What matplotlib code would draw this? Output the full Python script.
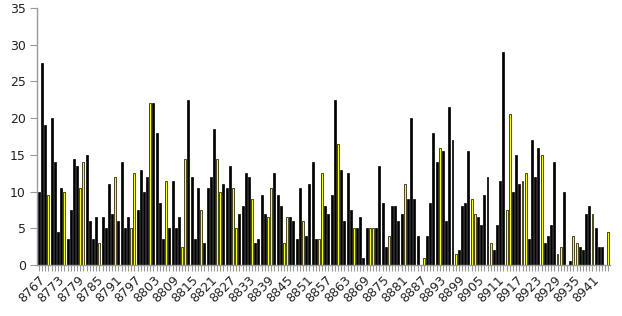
import matplotlib
matplotlib.use("Agg")
import matplotlib.pyplot as plt
import numpy as np

# categories are consecutive ids starting here
FIRST_ID = 8767

values = [
    10, 27.5, 19, 9.5, 20, 14, 4.5, 10.5, 10, 3.5,
    7.5, 14.5, 13.5, 10.5, 14, 15, 6, 3.5, 6.5, 3,
    6.5, 5, 11, 7, 12, 6, 14, 5, 6.5, 5,
    12.5, 7.5, 13, 10, 12, 22, 22, 18, 8.5, 3.5,
    11.5, 5, 11.5, 5, 6.5,
    2.5, 14.5, 22.5, 12, 3.5, 10.5, 7.5, 3, 10.5, 12,
    18.5, 14.5, 10, 11, 10.5, 13.5, 10.5, 5, 7, 8,
    12.5, 12, 9, 3, 3.5, 9.5, 7, 6.5, 10.5, 12.5,
    9.5, 8, 3, 6.5, 6.5, 6, 3.5, 10.5, 6, 4,
    11, 14, 3.5, 3.5,
    12.5, 8, 7, 9.5, 22.5, 16.5, 13, 6, 12.5, 7.5,
    5, 5, 6.5, 1, 5, 5, 5, 5, 13.5, 8.5,
    2.5, 4, 8, 8, 6, 7, 11, 9, 20, 9,
    4, 0, 1, 4, 8.5, 18, 14, 16, 15.5, 6,
    21.5, 17, 1.5, 2,
    8, 8.5, 15.5, 9, 7, 6.5, 5.5, 9.5, 12, 3,
    2, 5.5, 11.5, 29, 7.5, 20.5, 10, 15, 11, 11.5,
    12.5, 3.5, 17, 12, 16, 15, 3, 4, 5.5, 14,
    1.5, 2.5, 10, 0, 0.5, 4, 3, 2.5, 2, 7,
    8, 7, 5, 2.5, 2.5, 0, 4.5,
]

# ids drawn in yellow
highlight_ids = [
    8770, 8775, 8780, 8781, 8786, 8791, 8796, 8797, 8802, 8807,
    8812, 8813, 8818, 8823, 8824, 8828, 8829, 8834, 8839, 8840,
    8844, 8845, 8850, 8855, 8856, 8861, 8866, 8871, 8872, 8877,
    8882, 8888, 8893, 8898, 8903, 8904, 8909, 8914, 8915, 8919,
    8920, 8925, 8930, 8931, 8935, 8936, 8941, 8946,
]

ids = [FIRST_ID + i for i in range(len(values))]
colors = ["#ffff00" if i in highlight_ids else "black" for i in ids]

fig = plt.figure(figsize=(6.22, 3.16), dpi=100)
ax = fig.add_axes([0.0595, 0.1614, 0.9212, 0.8133])

x = np.arange(len(values))
ax.bar(x, values, width=0.62, color=colors, edgecolor="black", linewidth=0.5)

ax.set_xlim(-0.6, len(values) - 0.5)
ax.set_ylim(0, 35)
ax.set_yticks(np.arange(0, 36, 5))

ax.set_xticks(x)
ax.set_xticklabels([str(i) if k % 6 == 0 else "" for k, i in enumerate(ids)],
                   rotation=45, ha="right", rotation_mode="anchor", fontsize=9,
                   color="#222222")
ax.tick_params(axis="x", length=4, width=0.8, color="#999999", pad=2)
ax.tick_params(axis="y", length=5, width=0.8, color="#999999", labelsize=9,
               labelcolor="#222222", pad=3)

for side in ("top", "right"):
    ax.spines[side].set_visible(False)
for side in ("left", "bottom"):
    ax.spines[side].set_color("#999999")
    ax.spines[side].set_linewidth(1)

fig.savefig("out.png", dpi=100)
